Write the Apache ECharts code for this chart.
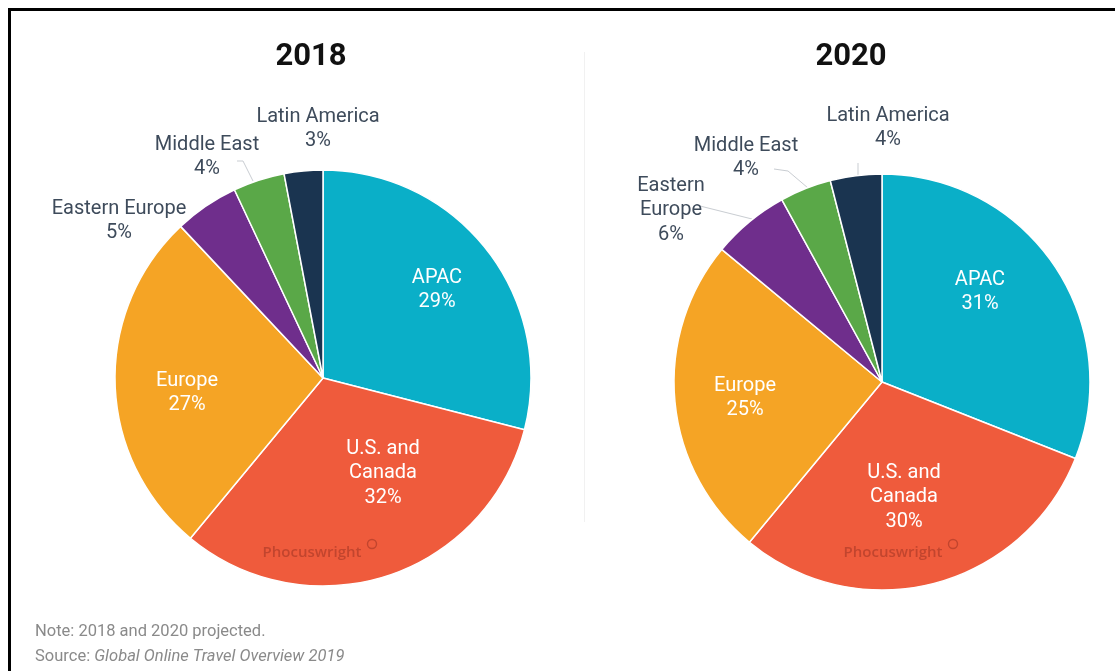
<!DOCTYPE html>
<html>
<head>
<meta charset="utf-8">
<title>Online travel share by region</title>
<script src="https://cdn.jsdelivr.net/npm/echarts@6/dist/echarts.min.js"></script>
<style>
  html, body { margin: 0; padding: 0; background: #ffffff; }
  #chart { width: 1115px; height: 671px; }
</style>
</head>
<body>
<div id="chart"></div>
<script>
// Region names and shares (percent of online travel) per year
const regions = ['APAC', 'U.S. and Canada', 'Europe', 'Eastern Europe', 'Middle East', 'Latin America'];
const labels2018 = ['APAC', 'U.S. and\nCanada', 'Europe', 'Eastern Europe', 'Middle East', 'Latin America'];
const labels2020 = ['APAC', 'U.S. and\nCanada', 'Europe', 'Eastern\nEurope', 'Middle East', 'Latin America'];
const share2018 = [29, 32, 27, 5, 4, 3];
const share2020 = [31, 30, 25, 6, 4, 4];
const years = ['2018', '2020'];

const sliceColors = ['#0aafc8', '#ef5b3c', '#f5a425', '#6f2e8c', '#5aa848', '#1a3450'];
const insideCount = 3; // first three slices carry their labels inside

// label anchor points (centre of each label block) and leader lines
const labelAnchors = [
  [[437, 290], [383, 473], [187, 393], [119, 221], [207, 157], [318, 129]],
  [[980, 292], [904, 497], [745, 398], [671, 210], [746, 158], [888, 128]]
];
const leaderLines = [
  [null, null, null, null, [[237, 161], [243, 161], [253, 181]], null],
  [null, null, null, [[700, 206], [752, 219]], [[774, 169], [788, 171], [808, 188]], [[858, 163], [858, 176]]]
];

const centers = [[323, 378], [882, 382]];
const radius = 208;

function buildData(values, labelTexts, s) {
  return values.map((v, i) => ({
    name: regions[i],
    value: v,
    itemStyle: { color: sliceColors[i] },
    label: {
      position: i < insideCount ? 'inside' : 'outside',
      formatter: labelTexts[i] + '\n' + v + '%',
      color: i < insideCount ? '#ffffff' : '#3e4b5b'
    },
    labelLine: { show: !!leaderLines[s][i] }
  }));
}

const yearData = [
  buildData(share2018, labels2018, 0),
  buildData(share2020, labels2020, 1)
];

const chart = echarts.init(document.getElementById('chart'), null, { renderer: 'canvas' });

const series = years.map((y, s) => ({
  type: 'pie',
  name: y,
  center: centers[s],
  radius: radius,
  startAngle: 90,
  clockwise: true,
  animation: false,
  silent: true,
  avoidLabelOverlap: false,
  itemStyle: { borderColor: '#ffffff', borderWidth: 1.5 },
  label: {
    show: true,
    fontFamily: 'Roboto',
    fontSize: 20,
    lineHeight: 24.5,
    align: 'center',
    overflow: 'none'
  },
  labelLine: {
    show: true,
    lineStyle: { color: '#c9cdd2', width: 1 }
  },
  labelLayout: function (params) {
    const a = labelAnchors[s][params.dataIndex];
    const out = { x: a[0], y: a[1], align: 'center', verticalAlign: 'middle', hideOverlap: false };
    const pts = leaderLines[s][params.dataIndex];
    if (pts) out.labelLinePoints = pts;
    return out;
  },
  data: yearData[s]
}));

const titleStyle = { fontFamily: 'Roboto', fontWeight: 'bold', fontSize: 31, fill: '#111111', textAlign: 'center', textVerticalAlign: 'middle' };
const markStyle = { text: 'Phocuswright', fontFamily: 'Open Sans', fontWeight: 600, fontSize: 15, fill: '#c2452e', textAlign: 'center', textVerticalAlign: 'middle' };
const noteColor = '#8a8a8a';

chart.setOption({
  backgroundColor: '#ffffff',
  series: series,
  graphic: [
    // frame on the top and left edges
    { type: 'rect', z: 100, silent: true, shape: { x: 8, y: 8, width: 1107, height: 3 }, style: { fill: '#000000' } },
    { type: 'rect', z: 100, silent: true, shape: { x: 8, y: 8, width: 3, height: 663 }, style: { fill: '#000000' } },
    // faint divider between the two pies
    { type: 'line', z: 100, silent: true, shape: { x1: 584.5, y1: 52, x2: 584.5, y2: 522 }, style: { stroke: '#f1f1f1', lineWidth: 1 } },
    // year headings
    { type: 'text', z: 100, silent: true, x: 311, y: 57, style: Object.assign({ text: years[0] }, titleStyle) },
    { type: 'text', z: 100, silent: true, x: 851, y: 57, style: Object.assign({ text: years[1] }, titleStyle) },
    // publisher mark on each pie
    { type: 'text', z: 100, silent: true, x: 312, y: 553, style: Object.assign({}, markStyle) },
    { type: 'circle', z: 100, silent: true, shape: { cx: 372, cy: 544, r: 4.5 }, style: { fill: 'none', stroke: '#c2452e', lineWidth: 1.4 } },
    { type: 'text', z: 100, silent: true, x: 893, y: 553, style: Object.assign({}, markStyle) },
    { type: 'circle', z: 100, silent: true, shape: { cx: 953, cy: 544, r: 4.5 }, style: { fill: 'none', stroke: '#c2452e', lineWidth: 1.4 } },
    // footnotes
    { type: 'text', z: 100, silent: true, x: 35, y: 632, style: { text: 'Note: 2018 and 2020 projected.', fontFamily: 'Roboto', fontSize: 16.5, fill: noteColor, textVerticalAlign: 'middle' } },
    { type: 'text', z: 100, silent: true, x: 35, y: 657, style: {
        text: '{n|Source: }{i|Global Online Travel Overview 2019}',
        fill: noteColor,
        textVerticalAlign: 'middle',
        rich: {
          n: { fontFamily: 'Roboto', fontSize: 16.5, fill: noteColor },
          i: { fontFamily: 'Roboto', fontSize: 16.5, fontStyle: 'italic', fill: noteColor }
        }
      } }
  ]
});
</script>
</body>
</html>
